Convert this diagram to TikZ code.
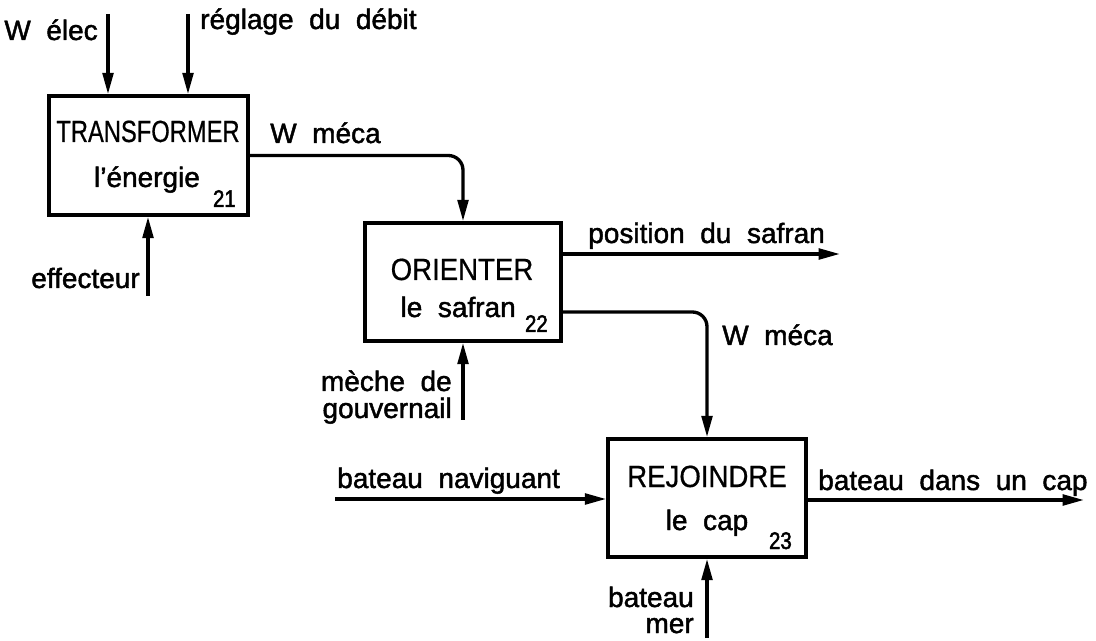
\documentclass[tikz,border=0pt]{standalone}
\usepackage{fontspec}
\setmainfont{Liberation Sans}[WordSpace=2]
\newfontfamily\lblfont{Liberation Sans}[WordSpace=2, FakeBold=1.6]
\newfontfamily\ttlfont{Liberation Sans}[WordSpace=2, FakeStretch=0.9, FakeBold=0.6]
\newfontfamily\numfont{Liberation Sans}[FakeStretch=0.85, FakeBold=2]
\usetikzlibrary{arrows.meta}
\begin{document}
\begin{tikzpicture}[x=0.75pt,y=-0.75pt,
  box/.style={draw, line width=2.7pt, inner sep=0pt},
  arr/.style={line width=2.5pt, -{Triangle[length=16pt,width=8pt]}},
  lbl/.style={font=\lblfont\fontsize{21}{24}\selectfont, inner sep=0pt},
  ttl/.style={font=\ttlfont\fontsize{23}{26}\selectfont, inner sep=0pt},
  num/.style={font=\numfont\fontsize{18}{20}\selectfont, inner sep=0pt}]
\useasboundingbox (0,0) rectangle (1096,641);

% boxes
\node[box, minimum width=149.25pt, minimum height=89.25pt] (b1) at (148.5,155.5) {};
\node[box, minimum width=147pt, minimum height=88.5pt] (b2) at (463,282) {};
\node[box, minimum width=148.5pt, minimum height=88.5pt] (b3) at (707,498) {};

% box texts
\node[ttl, anchor=base] (t1) at (148,142) {\scalebox{0.86}[1]{TRANSFORMER}};
\node[lbl, anchor=base] (s1) at (147,187) {l’énergie};
\node[num, anchor=base east] (n1) at (236,207) {21};
\node[ttl, anchor=base] (t2) at (462,280) {ORIENTER};
\node[lbl, anchor=base east] (s2) at (516,317) {le safran};
\node[num, anchor=base east] (n2) at (548,332) {22};
\node[ttl, anchor=base] (t3) at (707,487) {REJOINDRE};
\node[lbl, anchor=base] (s3) at (707,530) {le cap};
\node[num, anchor=base east] (n3) at (792,549) {23};

% external labels
\node[lbl, anchor=base east] (lwelec) at (98,40) {W élec};
\node[lbl, anchor=base west] (lregl) at (200,29) {réglage du débit};
\node[lbl, anchor=base west] (lmeca1) at (270,143) {W méca};
\node[lbl, anchor=base east] (leff) at (140,288) {effecteur};
\node[lbl, anchor=base west] (lpos) at (588,243) {position du safran};
\node[lbl, anchor=base west] (lmeca2) at (722,345) {W méca};
\node[lbl, anchor=base east] (lmeche1) at (452,391) {mèche de};
\node[lbl, anchor=base east] (lmeche2) at (452,418) {gouvernail};
\node[lbl, anchor=base west] (lnav) at (337,488) {bateau naviguant};
\node[lbl, anchor=base west] (lcap) at (818,490) {bateau dans un cap};
\node[lbl, anchor=base east] (lbat) at (694,607) {bateau};
\node[lbl, anchor=base east] (lmer) at (694,633) {mer};

% free ends
\coordinate (welec) at (108,14);
\coordinate (regl) at (188,14);
\coordinate (eff) at (148,296);
\coordinate (pos) at (840,254);
\coordinate (m2) at (0,312);
\coordinate (meche) at (463,420);
\coordinate (nav) at (335,499);
\coordinate (cap) at (1084,500);
\coordinate (mer) at (707,638);

% connectors
\draw[arr] (welec) -- (welec |- b1.north);
\draw[arr] (regl) -- (regl |- b1.north);
\draw[arr] (eff) -- (eff |- b1.south);
\draw[arr, rounded corners=11pt] (b1.east) -| (b2.north);
\draw[arr] (b2.east |- pos) -- (pos);
\draw[arr, rounded corners=11pt] (b2.east |- m2) -| (b3.north);
\draw[arr] (meche) -- (meche |- b2.south);
\draw[arr] (nav) -- (b3.west |- nav);
\draw[arr] (b3.east |- cap) -- (cap);
\draw[arr] (mer) -- (mer |- b3.south);
\end{tikzpicture}
\end{document}
